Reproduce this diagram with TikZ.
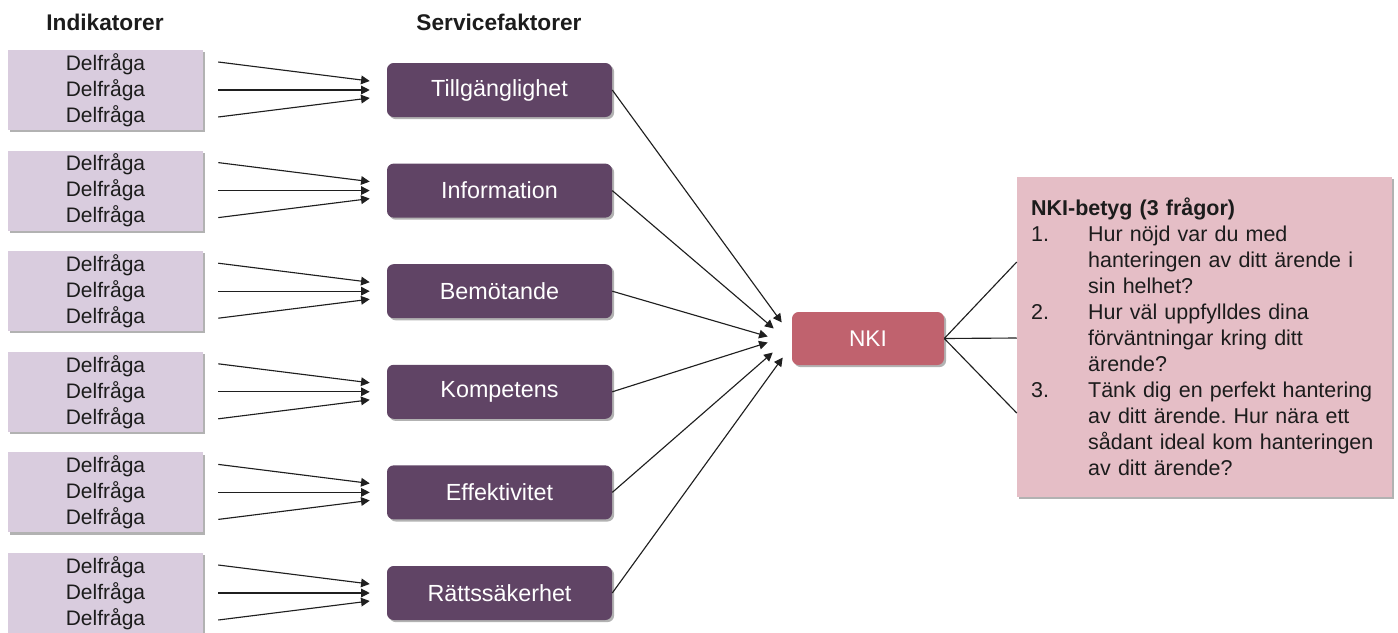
\documentclass[tikz,border=0pt]{standalone}
\usepackage{fontspec}
\setmainfont{Liberation Sans}
\usetikzlibrary{arrows.meta,shadows,calc}
\definecolor{lav}{HTML}{D9CCDE}
\definecolor{fac}{HTML}{604465}
\definecolor{nkic}{HTML}{C0626E}
\definecolor{rbc}{HTML}{E5BEC6}
\definecolor{txt}{HTML}{1C1C1C}
\newcommand\myind{\hspace*{42.75pt}}
\newcommand\numlab[1]{\makebox[42.75pt][l]{#1}}
\frenchspacing
\begin{document}
\begin{tikzpicture}[x=0.75pt,y=-0.75pt,
  shad/.style={drop shadow={shadow xshift=1.6pt,shadow yshift=-1.6pt,opacity=0.3,fill=black}},
  indbox/.style={shad,fill=lav,minimum width=146.25pt,minimum height=60pt,inner sep=0pt,align=center,text=txt,font=\fontsize{15.75}{19.5}\selectfont},
  factor/.style={shad,fill=fac,rounded corners=5pt,minimum width=168.75pt,minimum height=40.5pt,inner sep=0pt,text=white,font=\fontsize{17.5}{20}\selectfont},
  nkibox/.style={shad,fill=nkic,rounded corners=5pt,minimum width=114pt,minimum height=39.75pt,inner sep=0pt,text=white,font=\fontsize{17}{20}\selectfont},
  rightbox/.style={shad,fill=rbc,minimum width=281.25pt,minimum height=240pt,inner xsep=10.5pt,inner ysep=0pt,text width=260pt,align=left,text=txt,font=\fontsize{16.1}{19.5}\selectfont},
  hdr/.style={text=txt,font=\fontsize{17}{20}\selectfont\bfseries},
  arr/.style={-{Triangle[length=6.5pt,width=6.5pt]},line width=0.85pt,draw=black!88},
  ln/.style={line width=0.85pt,draw=black!88}]
\useasboundingbox (0,0) rectangle (1398,632);
\node[hdr] (h1) at (105,22) {Indikatorer};
\node[hdr] (h2) at (499,22) {Servicefaktorer};
\foreach \n [count=\i from 0] in {Tillgänglighet,Information,Bemötande,Kompetens,Effektivitet,Rättssäkerhet}{
  \pgfmathsetmacro\yc{90+\i*100.6}
  \node[indbox] (b\i) at (105.5,\yc) {Delfråga\\Delfråga\\Delfråga};
  \node[factor] (f\i) at (499.5,\yc) {\n};
  \draw[arr] ($(b\i.east)+(15,-28)$) -- ($(f\i.west)+(-17,-9)$);
  \draw[arr] ($(b\i.east)+(15,0)$) -- ($(f\i.west)+(-17,0)$);
  \draw[arr] ($(b\i.east)+(15,27)$) -- ($(f\i.west)+(-17,8)$);
}
\node[nkibox] (nki) at (868,338.5) {NKI};
\foreach \i/\dx/\dy in {0/-10/-16,1/-18/-10,2/-24/-2,3/-24/4,4/-19/14,5/-9/19}{
  \draw[arr] (f\i.east) -- ($(nki.west)+(\dx,\dy)$);
}
\node[rightbox] (rb) at (1204.5,337) {\textbf{NKI-betyg (3 frågor)}\\
\numlab{1.}Hur nöjd var du med\\
\myind hanteringen av ditt ärende i\\
\myind sin helhet?\\
\numlab{2.}Hur väl uppfylldes dina\\
\myind förväntningar kring ditt\\
\myind ärende?\\
\numlab{3.}Tänk dig en perfekt hantering\\
\myind av ditt ärende. Hur nära ett\\
\myind sådant ideal kom hanteringen\\
\myind av ditt ärende?};
\draw[ln] (nki.east) -- ($(rb.west)+(0,-75)$);
\draw[ln] (nki.east) -- ($(rb.west)+(0,1)$);
\draw[ln] (nki.east) -- ($(rb.west)+(0,76)$);
\end{tikzpicture}
\end{document}
